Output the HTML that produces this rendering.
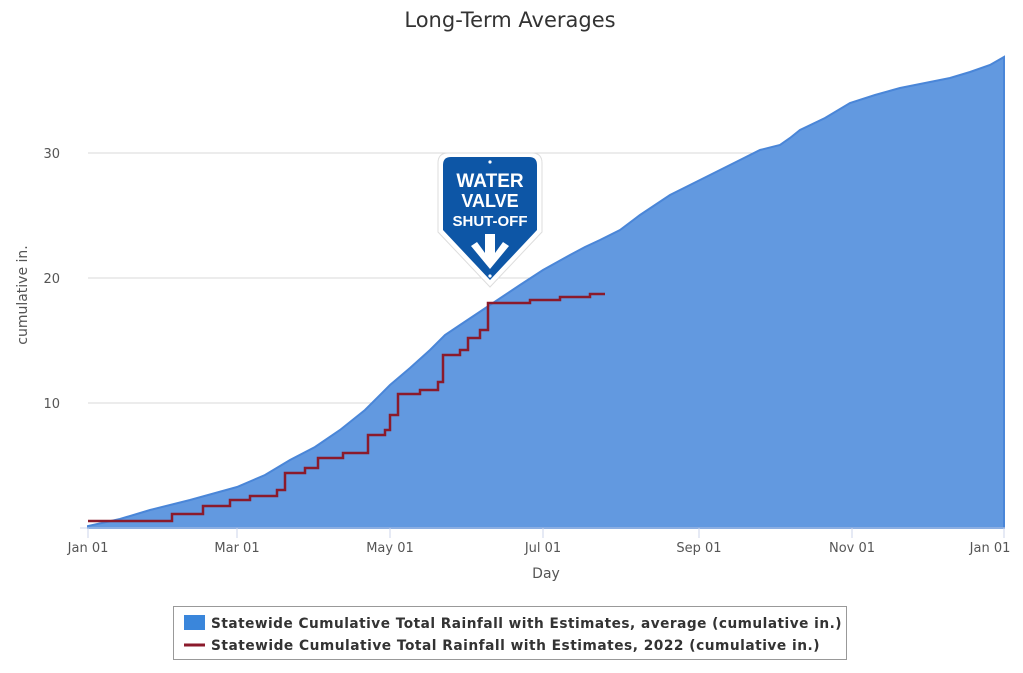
<!DOCTYPE html>
<html><head><meta charset="utf-8"><style>body{margin:0;background:#fff}svg{display:block;font-family:"DejaVu Sans","Liberation Sans",sans-serif}</style></head><body>
<svg width="1023" height="673" viewBox="0 0 1023 673">
<text x="510" y="27" text-anchor="middle" font-size="21" fill="#333">Long-Term Averages</text>
<g stroke="#d8d8d8" stroke-width="1">
<line x1="88" y1="153" x2="1005" y2="153"/><line x1="88" y1="278" x2="1005" y2="278"/><line x1="88" y1="403" x2="1005" y2="403"/>
</g>
<g font-size="13" fill="#555" text-anchor="end"><text x="60" y="158">30</text><text x="60" y="283">20</text><text x="60" y="408">10</text></g>
<text transform="translate(27,295) rotate(-90)" text-anchor="middle" font-size="14" fill="#555">cumulative in.</text>
<path d="M88,528 L88,526 L120,519 L150,510 L190,500 L237,487 L265,475 L290,460 L315,447 L340,430 L365,410 L390,385 L410,368 L430,350 L445,335 L460,325 L475,315 L490,305 L505,295 L520,285 L543,270 L570,255 L585,247 L600,240 L620,230 L640,215 L655,205 L670,195 L700,180 L720,170 L740,160 L760,150 L780,145 L790,138 L800,130 L825,118 L850,103 L875,95 L900,88 L925,83 L950,78 L970,72 L990,65 L1004,57 L1004,528 Z" fill="#6299e0" stroke="#4a86d8" stroke-width="2"/>
<polyline fill="none" stroke="#8b1a2b" stroke-width="2.5" points="88,521 172,521 172,514 203,514 203,506 230,506 230,500 250,500 250,496 277,496 277,490 285,490 285,473 305,473 305,468 318,468 318,458 343,458 343,453 368,453 368,435 385,435 385,430 390,430 390,415 398,415 398,394 420,394 420,390 438,390 438,382 443,382 443,355 460,355 460,350 468,350 468,338 480,338 480,330 488,330 488,303 530,303 530,300 560,300 560,297 590,297 590,294 605,294"/>
<line x1="80" y1="528" x2="1005" y2="528" stroke="#ccd6eb"/>
<g stroke="#ccd6eb"><line x1="88" y1="528" x2="88" y2="538"/><line x1="237" y1="528" x2="237" y2="538"/><line x1="390" y1="528" x2="390" y2="538"/><line x1="543" y1="528" x2="543" y2="538"/><line x1="699" y1="528" x2="699" y2="538"/><line x1="852" y1="528" x2="852" y2="538"/><line x1="1004" y1="528" x2="1004" y2="538"/></g>
<g font-size="13" fill="#555" text-anchor="middle"><text x="88" y="552">Jan 01</text><text x="237" y="552">Mar 01</text><text x="390" y="552">May 01</text><text x="543" y="552">Jul 01</text><text x="699" y="552">Sep 01</text><text x="852" y="552">Nov 01</text><text x="990" y="552">Jan 01</text></g>
<text x="546" y="578" text-anchor="middle" font-size="14" fill="#555">Day</text>
<path d="M448,153 L532,153 Q542,153 542,163 L542,232 L490,287 L438,232 L438,163 Q438,153 448,153 Z" fill="#fff" stroke="#ddd"/>
<path d="M451,157 L529,157 Q537,157 537,165 L537,230 L490,280 L443,230 L443,165 Q443,157 451,157 Z" fill="#0d56a6"/>
<circle cx="490" cy="162" r="1.6" fill="#fff"/><circle cx="490" cy="276" r="1.6" fill="#fff"/>
<g fill="#fff" font-weight="bold" text-anchor="middle" font-family="Liberation Sans Narrow, Liberation Sans, sans-serif"><text x="490" y="187" font-size="19">WATER</text><text x="490" y="207" font-size="18">VALVE</text><text x="490" y="226" font-size="15">SHUT-OFF</text></g>
<path d="M485,234 L495,234 L495,253 L503,242 L509,246 L490,269 L471,246 L477,242 L485,253 Z" fill="#fff"/>
<rect x="173.5" y="606.5" width="673" height="53" fill="#fff" stroke="#999"/>
<rect x="184" y="615" width="21" height="15" fill="#3a86db"/>
<line x1="184" y1="645" x2="205" y2="645" stroke="#8b1a2b" stroke-width="3"/>
<g font-size="14" font-weight="bold" fill="#333" letter-spacing="0.5"><text x="211" y="628" textLength="631" lengthAdjust="spacingAndGlyphs">Statewide Cumulative Total Rainfall with Estimates, average (cumulative in.)</text><text x="211" y="650" textLength="609" lengthAdjust="spacingAndGlyphs">Statewide Cumulative Total Rainfall with Estimates, 2022 (cumulative in.)</text></g>
</svg>
</body></html>
